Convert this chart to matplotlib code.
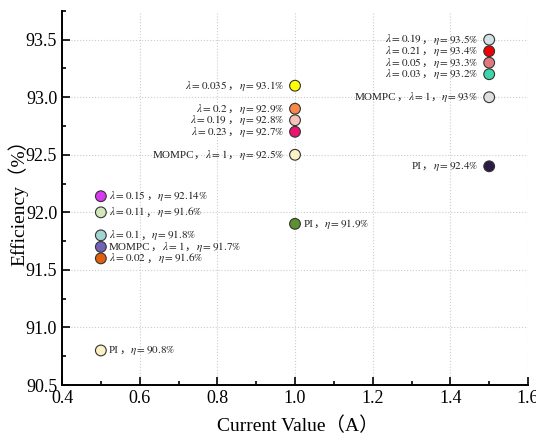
import matplotlib
matplotlib.use("Agg")
import matplotlib.pyplot as plt
from matplotlib.ticker import MultipleLocator
from matplotlib.offsetbox import TextArea, HPacker, AnnotationBbox

plt.rcParams["font.family"] = ["Liberation Serif", "Noto Sans CJK SC"]
plt.rcParams["mathtext.fontset"] = "stix"

# current value (A), efficiency (%), label text
currents = [1.5, 1.5, 1.5, 1.5, 1.5, 1.5,
            1.0, 1.0, 1.0, 1.0, 1.0, 1.0,
            0.5, 0.5, 0.5, 0.5, 0.5, 0.5]
efficiency = [93.5, 93.4, 93.3, 93.2, 93.0, 92.4,
              93.1, 92.9, 92.8, 92.7, 92.5, 91.9,
              92.14, 92.0, 91.8, 91.7, 91.6, 90.8]
labels = [
    r"$\lambda=0.19$，$\eta=93.5\%$",
    r"$\lambda=0.21$，$\eta=93.4\%$",
    r"$\lambda=0.05$，$\eta=93.3\%$",
    r"$\lambda=0.03$，$\eta=93.2\%$",
    r"MOMPC，$\lambda=1$，$\eta=93\%$",
    r"PI，$\eta=92.4\%$",
    r"$\lambda=0.035$，$\eta=93.1\%$",
    r"$\lambda=0.2$，$\eta=92.9\%$",
    r"$\lambda=0.19$，$\eta=92.8\%$",
    r"$\lambda=0.23$，$\eta=92.7\%$",
    r"MOMPC，$\lambda=1$，$\eta=92.5\%$",
    r"PI，$\eta=91.9\%$",
    r"$\lambda=0.15$，$\eta=92.14\%$",
    r"$\lambda=0.11$，$\eta=91.6\%$",
    r"$\lambda=0.1$，$\eta=91.8\%$",
    r"MOMPC，$\lambda=1$，$\eta=91.7\%$",
    r"$\lambda=0.02$，$\eta=91.6\%$",
    r"PI，$\eta=90.8\%$",
]
colors = ["#d3e2e5", "#f00000", "#e07880", "#3ed6a8", "#dedede", "#2c1a45",
          "#ffff00", "#f7884a", "#f6c3b8", "#ec1170", "#fbf1c4", "#5c9030",
          "#d838f0", "#d2e8b8", "#a2d4d4", "#7462b8", "#e0600f", "#fbf1c4"]
label_left = [True, True, True, True, True, True,
              True, True, True, True, True, False,
              False, False, False, False, False, False]


def make_label(txt, fs=8):
    # mathtext can't fall back to a CJK font, so the full-width commas
    # go in their own text boxes
    parts = txt.split("，")
    children = []
    for i, p in enumerate(parts):
        children.append(TextArea(p, textprops=dict(fontsize=fs, color="#222222")))
        if i < len(parts) - 1:
            children.append(TextArea("，", textprops=dict(
                fontsize=fs, color="#222222",
                family=["Noto Sans CJK SC", "Liberation Serif"])))
    return HPacker(children=children, align="baseline", pad=0, sep=0)


fig = plt.figure(figsize=(5.36, 4.34), dpi=100)
ax = fig.add_axes([0.1157, 0.1129, 0.8694, 0.862])

ax.scatter(currents, efficiency, s=60, c=colors, edgecolors="#333333",
           linewidths=0.8, zorder=3)

for x, y, txt, left in zip(currents, efficiency, labels, label_left):
    box = make_label(txt)
    if left:
        ab = AnnotationBbox(box, (x, y), xybox=(-8, 0), xycoords="data",
                            boxcoords="offset points", box_alignment=(1, 0.5),
                            frameon=False, pad=0)
    else:
        ab = AnnotationBbox(box, (x, y), xybox=(6, 0), xycoords="data",
                            boxcoords="offset points", box_alignment=(0, 0.5),
                            frameon=False, pad=0)
    ax.add_artist(ab)

ax.set_xlim(0.4, 1.6)
ax.set_ylim(90.5, 93.75)
ax.xaxis.set_major_locator(MultipleLocator(0.2))
ax.xaxis.set_minor_locator(MultipleLocator(0.1))
ax.yaxis.set_major_locator(MultipleLocator(0.5))
ax.yaxis.set_minor_locator(MultipleLocator(0.25))
ax.tick_params(which="both", direction="in", labelsize=13, width=1.2)
ax.tick_params(which="major", length=6)
ax.tick_params(which="minor", length=3)
ax.set_xticks(ax.get_xticks())
ax.set_yticks(ax.get_yticks())
ax.set_xticklabels([f"{v:.1f}" for v in ax.get_xticks()])
ax.set_yticklabels([f"{v:.1f}" for v in ax.get_yticks()])
ax.set_xlim(0.4, 1.6)
ax.set_ylim(90.5, 93.75)

for side in ["top", "right"]:
    ax.spines[side].set_visible(False)
for side in ["left", "bottom"]:
    ax.spines[side].set_linewidth(1.4)

ax.grid(True, linestyle=":", color="#cccccc", linewidth=0.8)
ax.set_axisbelow(True)

ax.set_xlabel("Current Value（A）", fontsize=14, va="center")
ax.set_ylabel("Efficiency（%）", fontsize=14, va="center")
ax.xaxis.set_label_coords(0.505, -0.11)
ax.yaxis.set_label_coords(-0.094, 0.5)

fig.savefig("out.png", dpi=100)
